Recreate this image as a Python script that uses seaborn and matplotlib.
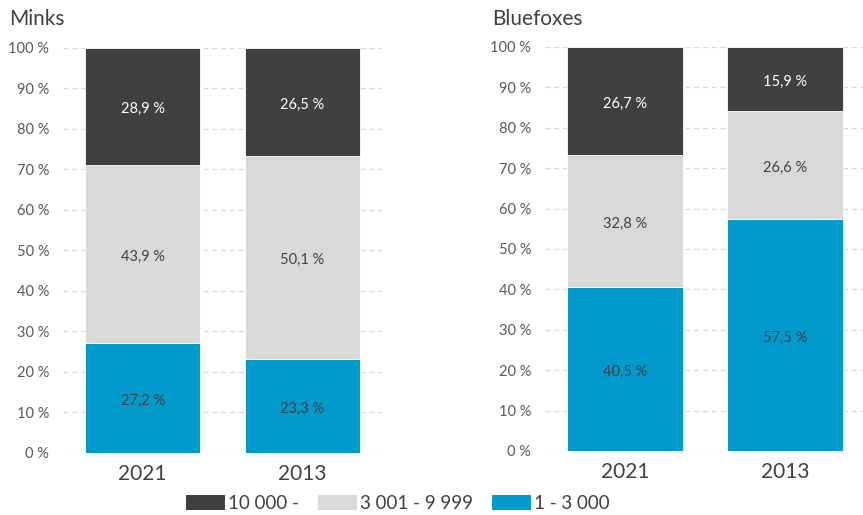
import matplotlib
matplotlib.use("Agg")
import matplotlib.pyplot as plt
import seaborn as sns
import pandas as pd
from matplotlib.patches import Patch

sns.set_style("white")
plt.rcParams['font.family'] = ['Lato', 'DejaVu Sans']

years = ["2021", "2013"]
categories = ["10 000 -", "3 001 - 9 999", "1 - 3 000"]
colors = ["#404040", "#d9d9d9", "#009ACD"]
label_colors = ["white", "#404040", "#404040"]

# share of farms per size class (bottom to top: small, medium, large)
minks_small = [27.2, 23.3]
minks_medium = [43.9, 50.1]
minks_large = [28.9, 26.5]

foxes_small = [40.5, 57.5]
foxes_medium = [32.8, 26.6]
foxes_large = [26.7, 15.9]


def stacked(ax, small, medium, large):
    df = pd.DataFrame({"year": years, "small": small, "medium": medium, "large": large})
    df["b_medium"] = df["small"]
    df["b_large"] = df["small"] + df["medium"]
    layers = [("small", None, 2), ("medium", "b_medium", 1), ("large", "b_large", 0)]
    for col, bcol, ci in layers:
        bottom = df[bcol].values if bcol else 0
        sns.barplot(data=df, x="year", y=col, ax=ax, color=colors[ci], width=0.72,
                    bottom=bottom, edgecolor="white", linewidth=0.6, saturation=1)
        ax.bar_label(ax.containers[-1], labels=[f"{v:.1f} %".replace(".", ",") for v in df[col]],
                     label_type="center", padding=-2, color=label_colors[ci], fontsize=10.5)
    ax.set_ylim(0, 100)
    ax.set_xlim(-0.5, 1.5)
    ax.set_yticks(range(0, 101, 10))
    ax.set_yticklabels([f"{v} %" for v in range(0, 101, 10)], color="#595959", fontsize=10.5)
    ax.tick_params(axis="y", length=0, pad=10)
    ax.tick_params(axis="x", length=0, pad=8, labelsize=15, labelcolor="#404040")
    ax.yaxis.grid(True, linestyle=(0, (4, 3)), color="#d9d9d9", linewidth=0.9)
    ax.set_axisbelow(True)
    sns.despine(ax=ax, left=True, bottom=True)
    ax.set_xlabel("")
    ax.set_ylabel("")


fig = plt.figure(figsize=(8.63, 5.15), dpi=100)
ax1 = fig.add_axes([0.073, 0.1204, 0.3696, 0.7864])
ax2 = fig.add_axes([0.6315, 0.1243, 0.3708, 0.7845])

stacked(ax1, minks_small, minks_medium, minks_large)
stacked(ax2, foxes_small, foxes_medium, foxes_large)

fig.text(0.011, 0.952, "Minks", fontsize=15, color="#404040", va="baseline")
fig.text(0.570, 0.952, "Bluefoxes", fontsize=15, color="#404040", va="baseline")

handles = [Patch(facecolor=c, edgecolor="none") for c in colors]
fig.legend(handles, categories, loc="lower center", bbox_to_anchor=(0.461, -0.027), ncol=3,
           frameon=False, fontsize=13.5, handlelength=2.1, handleheight=0.9,
           handletextpad=0.15, columnspacing=1.0, labelcolor="#404040")

fig.savefig("out.png", dpi=100)
